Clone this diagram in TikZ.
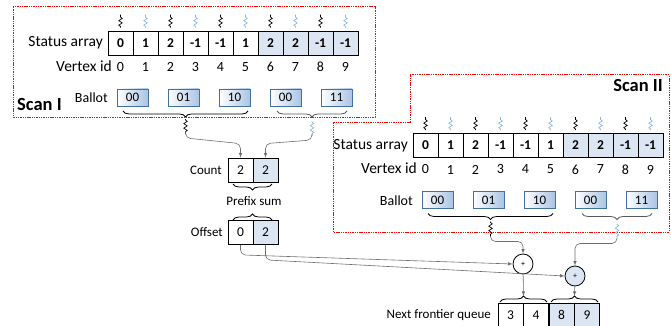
\documentclass[tikz,border=0pt]{standalone}
\usepackage{fontspec}
\setmainfont{Carlito}
\usetikzlibrary{decorations.pathmorphing,decorations.pathreplacing}
\definecolor{cellblue}{RGB}{220,230,242}
\definecolor{squigblue}{RGB}{141,180,226}
\definecolor{ballotblue}{RGB}{170,196,228}
\definecolor{ballotedge}{RGB}{65,113,156}
\definecolor{conngray}{RGB}{110,110,110}
\definecolor{scanred}{RGB}{255,0,0}

\begin{document}
\begin{tikzpicture}[x=1pt,y=-1pt]
        \tikzstyle{every node} = [inner sep=0pt, font=\fontsize{13}{14}\selectfont]
        \tikzstyle{cell} = [draw, minimum width=25pt, minimum height=24pt, line width=0.8pt, font=\fontsize{13.5}{14}\selectfont]
        \tikzstyle{ballot} = [draw=ballotedge, line width=0.8pt, left color=white, right color=ballotblue, minimum width=31pt, minimum height=17pt, font=\fontsize{13}{14}\selectfont]
        \tikzstyle{squig} = [decorate, decoration={snake, amplitude=1.7pt, segment length=4.5pt, pre length=1pt, post length=1pt}, line width=0.7pt]
        \tikzstyle{brc} = [decorate, decoration={brace, amplitude=6pt}, line width=0.8pt]
        \tikzstyle{conn} = [draw=conngray, line width=0.6pt, -latex, rounded corners=5pt]
        \tikzstyle{plus} = [circle, draw, minimum size=20pt, line width=0.8pt, font=\footnotesize]
        \tikzstyle{scanbox} = [draw=scanred, dash pattern=on 1.4pt off 0.9pt, line width=1pt]
        \tikzstyle{biglabel} = [font=\fontsize{15.5}{16}\selectfont]
        \useasboundingbox (0,0) rectangle (671,326);

        % the two scan frames
        \draw[scanbox] (13,7) rectangle (375,117);
        \draw[scanbox] (410,75) -- (669,75) -- (669,232) -- (333,232) -- (333,122) -- (410,122) -- cycle;
        \node[anchor=west, font=\fontsize{18.5}{19}\selectfont\bfseries] (scan1) at (17,105) {Scan I};
        \node[anchor=east, font=\fontsize{18.5}{19}\selectfont\bfseries] (scan2) at (663,86) {Scan II};

        \foreach \s/\dx/\dy in {a/0/0, b/305/102.5} {
          \begin{scope}[shift={(\dx,\dy)}]
            \node[biglabel, anchor=east] (lst\s) at (103,43) {Status array};
            \node[biglabel, anchor=east] (lvx\s) at (112,66) {Vertex id};
            \node[anchor=east, font=\fontsize{14}{14}\selectfont] (lbl\s) at (108,98) {Ballot};
            \foreach \i/\v/\cl in {0/0/white, 1/1/white, 2/2/white, 3/-1/white, 4/-1/white,
                                   5/1/white, 6/2/cellblue, 7/2/cellblue, 8/-1/cellblue, 9/-1/cellblue} {
              \node[cell, fill=\cl, font=\fontsize{13.5}{14}\selectfont\bfseries] (s\s\i) at (120.5+25*\i,43) {\v};
              \node[font=\fontsize{14}{14}\selectfont] (v\s\i) at (120.5+25*\i,67) {\i};
            }
            \foreach \i in {0,2,4,6,8}
              \draw[squig] ([yshift=3pt]s\s\i.north) -- ++(0,-13);
            \foreach \i in {1,3,5,7,9}
              \draw[squig, squigblue] ([yshift=3pt]s\s\i.north) -- ++(0,-13);
            \foreach \j/\t in {0/00, 1/01, 2/10, 3/00, 4/11}
              \node[ballot] (b\s\j) at (132.5+51*\j,97.5) {\t};
            \draw[brc] (248,111) -- (123,111);
            \draw[brc, black!65] (347,111) -- (277,111);
            \draw[squig] (185.5,119) -- (185.5,134);
            \draw[squig, squigblue] (312,121) -- (312,136);
            \coordinate (q\s1) at (185.5,134);
            \coordinate (q\s2) at (312,136);
          \end{scope}
        }

        % count, prefix sum, offset
        \node[anchor=east] (lcnt) at (222,170) {Count};
        \node[cell] (cnt0) at (240.5,170) {2};
        \node[cell, fill=cellblue] (cnt1) at (265.5,170) {2};
        \draw[brc] (272,184) -- (233,184);
        \node (lpre) at (254,201) {Prefix sum};
        \draw[brc] (233,220) -- (272,220);
        \node[anchor=east] (loff) at (223,232.5) {Offset};
        \node[cell] (off0) at (240.5,232.5) {0};
        \node[cell, fill=cellblue] (off1) at (265.5,232.5) {2};

        % adders and next frontier queue
        \node[plus] (pl1) at (523,264) {+};
        \node[plus, fill=cellblue] (pl2) at (575,276) {+};
        \node[anchor=east] (lnq) at (491,315) {Next frontier queue};
        \foreach \i/\v/\cl in {0/3/white, 1/4/white, 2/8/cellblue, 3/9/cellblue}
          \node[cell, fill=\cl] (nq\i) at (510.5+25.5*\i,315) {\v};
        \draw[brc] (500,302) -- (547,302);
        \draw[brc] (551,302) -- (598,302);
        \coordinate (tq1) at (523.5,296);
        \coordinate (tq2) at (574.5,296);

        \draw[conn] (qa1) -- ++(0,4) -- ([yshift=14pt]cnt0.north) -- (cnt0.north);
        \draw[conn] (qa2) -- ++(0,4) -- ([yshift=14pt]cnt1.north) -- (cnt1.north);
        \draw[conn] (off0.south) -- ++(0,10) -- (pl1.west);
        \draw[conn] (off1.south) -- ++(0,15) -- (pl2.west);
        \draw[conn] (qb1) -- ++(0,5) -| (pl1.north);
        \draw[conn] (qb2) -- ++(0,5) -| (pl2.north);
        \foreach \from/\to in {pl1/tq1, pl2/tq2}
            \draw[conn] (\from) -- (\to);
      \end{tikzpicture}
\end{document}
